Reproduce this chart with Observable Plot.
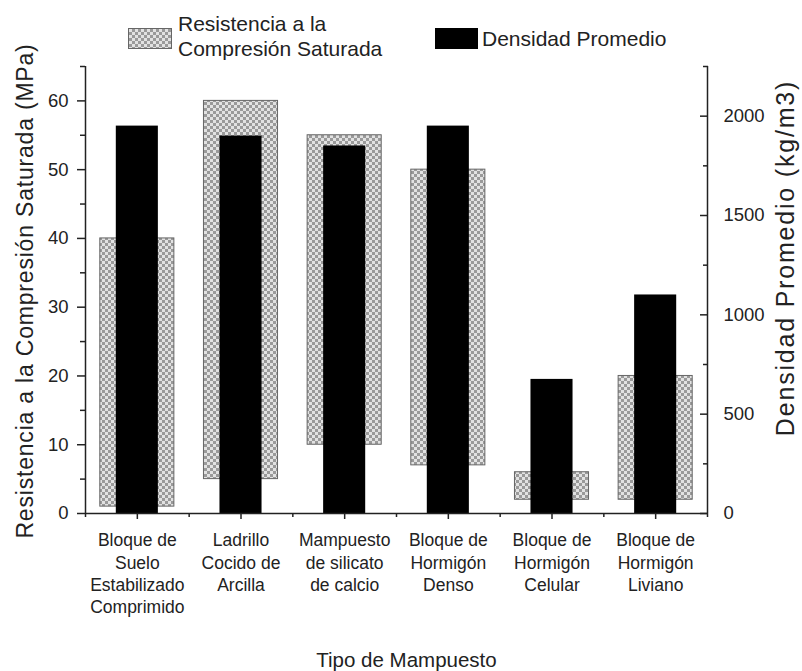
<!DOCTYPE html>
<html><head><meta charset="utf-8">
<script src="https://cdn.jsdelivr.net/npm/d3@7"></script>
<script src="https://cdn.jsdelivr.net/npm/@observablehq/plot@0.6"></script>
<style>
body{margin:0;background:#fff;font-family:"Liberation Sans",Arial,sans-serif;}
#wrap{position:relative;width:802px;}
#legend{position:relative;height:60px;font-size:21px;color:#222;line-height:25px;}
#legend .sw{position:absolute;box-sizing:border-box;}
#legend .tx{position:absolute;white-space:nowrap;}
#chart svg{overflow:visible;}
</style></head><body>
<div id="wrap"><div id="legend"></div><div id="chart"></div></div>
<script>
// ---- data ----
const categories = ["Suelo Estabilizado", "Ladrillo", "Silicato de calcio", "Hormigón Denso", "Hormigón Celular", "Hormigón Liviano"];
const tickLabels = ["Bloque de\nSuelo\nEstabilizado\nComprimido", "Ladrillo\nCocido de\nArcilla", "Mampuesto\nde silicato\nde calcio", "Bloque de\nHormigón\nDenso", "Bloque de\nHormigón\nCelular", "Bloque de\nHormigón\nLiviano"];
const resistMin = [1, 5, 10, 7, 2, 2];      // MPa
const resistMax = [40, 60, 55, 50, 6, 20];  // MPa
const density = [1950, 1900, 1850, 1950, 675, 1100]; // kg/m3
const leftTicks = [0, 10, 20, 30, 40, 50, 60];
const leftMinor = [5, 15, 25, 35, 45, 55, 65];
const rightTicks = [0, 500, 1000, 1500, 2000];
const rightMinor = [250, 750, 1250, 1750, 2250];
const leftMax = 65, rightMax = 2250;
const seriesNames = ["Resistencia a la\nCompresión Saturada", "Densidad Promedio"];
const leftTitle = "Resistencia a la Compresión Saturada (MPa)";
const rightTitle = "Densidad Promedio (kg/m3)";
const xTitle = "Tipo de Mampuesto";

// ---- derived tables ----
const k = leftMax / rightMax;
const rows = categories.map((c, i) => ({i, c, lo: resistMin[i], hi: resistMax[i], dens: density[i]}));
const centers = categories.map((c, i) => i + 0.5);
const bounds = d3.range(0, categories.length + 1);

const font = '"Liberation Sans", Arial, sans-serif';

const plot = Plot.plot({
  width: 802,
  height: 611,
  marginTop: 6,
  marginLeft: 85,
  marginRight: 95,
  marginBottom: 158,
  style: {fontFamily: font, color: "#222", background: "transparent", overflow: "visible"},
  x: {domain: [0, categories.length], axis: null},
  y: {domain: [0, leftMax], axis: null},
  marks: [
    Plot.rectY(rows, {x1: d => d.i, x2: d => d.i + 1, y1: "lo", y2: "hi", fill: "url(#checker)", stroke: "#666", strokeWidth: 1, insetLeft: 14.8, insetRight: 14.8}),
    Plot.rectY(rows, {x1: d => d.i, x2: d => d.i + 1, y1: 0, y2: d => d.dens * k, fill: "#000", insetLeft: 30.8, insetRight: 30.8}),
    // axis lines
    Plot.ruleX([0, categories.length], {stroke: "#222", strokeWidth: 1.5}),
    Plot.ruleY([0], {stroke: "#222", strokeWidth: 1.5}),
    // left axis
    Plot.axisY(leftTicks, {anchor: "left", tickSize: 8, tickPadding: 9, fontSize: 18.5, strokeWidth: 1.5}),
    Plot.axisY(leftMinor, {anchor: "left", tickSize: 5, tickFormat: () => "", strokeWidth: 1.5}),
    // right axis (density), ticks inward
    Plot.axisY(rightTicks.map(v => v * k), {anchor: "right", tickSize: 8, insetRight: 8, tickPadding: 16, fontSize: 18.5, strokeWidth: 1.5, tickFormat: v => String(Math.round(v / k))}),
    Plot.axisY(rightMinor.map(v => v * k), {anchor: "right", tickSize: 5, insetRight: 5, tickFormat: () => "", strokeWidth: 1.5}),
    // x axis
    Plot.axisX(centers, {anchor: "bottom", tickSize: 6, tickPadding: 11, fontSize: 17.5, lineHeight: 1.27, strokeWidth: 1.5, tickFormat: v => tickLabels[Math.floor(v)]}),
    Plot.axisX(bounds, {anchor: "bottom", tickSize: 4, tickFormat: () => "", strokeWidth: 1.5}),
    // titles
    Plot.text([leftTitle], {frameAnchor: "left", dx: -60, dy: 1, rotate: -90, fontSize: 23, fill: "#222", textAnchor: "middle", lineAnchor: "middle"}),
    Plot.text([rightTitle], {frameAnchor: "right", dx: 78, dy: -32, rotate: -90, fontSize: 25, fill: "#222", textAnchor: "middle", lineAnchor: "middle"}),
    Plot.text([xTitle], {frameAnchor: "bottom", dx: 10, dy: 147, fontSize: 20.5, fill: "#222", textAnchor: "middle", lineAnchor: "middle"})
  ]
});

// checker pattern for the strength bars
const defs = d3.select(plot).insert("defs", ":first-child");
const pat = defs.append("pattern").attr("id", "checker").attr("patternUnits", "userSpaceOnUse").attr("width", 6).attr("height", 6);
pat.append("rect").attr("width", 6).attr("height", 6).attr("fill", "#e2e2e2");
pat.append("rect").attr("width", 3).attr("height", 3).attr("fill", "#9a9a9a");
pat.append("rect").attr("x", 3).attr("y", 3).attr("width", 3).attr("height", 3).attr("fill", "#9a9a9a");

// slightly wider letter spacing on the rotated titles
d3.select(plot).selectAll("text").each(function() {
  const t = this.textContent;
  if (t === leftTitle) this.setAttribute("letter-spacing", "0.8");
  if (t === rightTitle) this.setAttribute("letter-spacing", "1.8");
});

document.getElementById("chart").appendChild(plot);

// ---- legend (HTML above the SVG) ----
const lg = d3.select("#legend");
lg.append("div").attr("class", "sw")
  .style("left", "128px").style("top", "28px").style("width", "44px").style("height", "21px")
  .style("border", "1px solid #666")
  .style("background", "repeating-conic-gradient(#9a9a9a 0 25%, #e2e2e2 0 50%) 0 0/6px 6px");
lg.append("div").attr("class", "tx").style("left", "178px").style("top", "11px")
  .html(seriesNames[0].split("\n").join("<br>"));
lg.append("div").attr("class", "sw")
  .style("left", "435px").style("top", "28px").style("width", "43px").style("height", "21px")
  .style("background", "#000");
lg.append("div").attr("class", "tx").style("left", "482px").style("top", "26px").text(seriesNames[1]);
</script>
</body></html>
